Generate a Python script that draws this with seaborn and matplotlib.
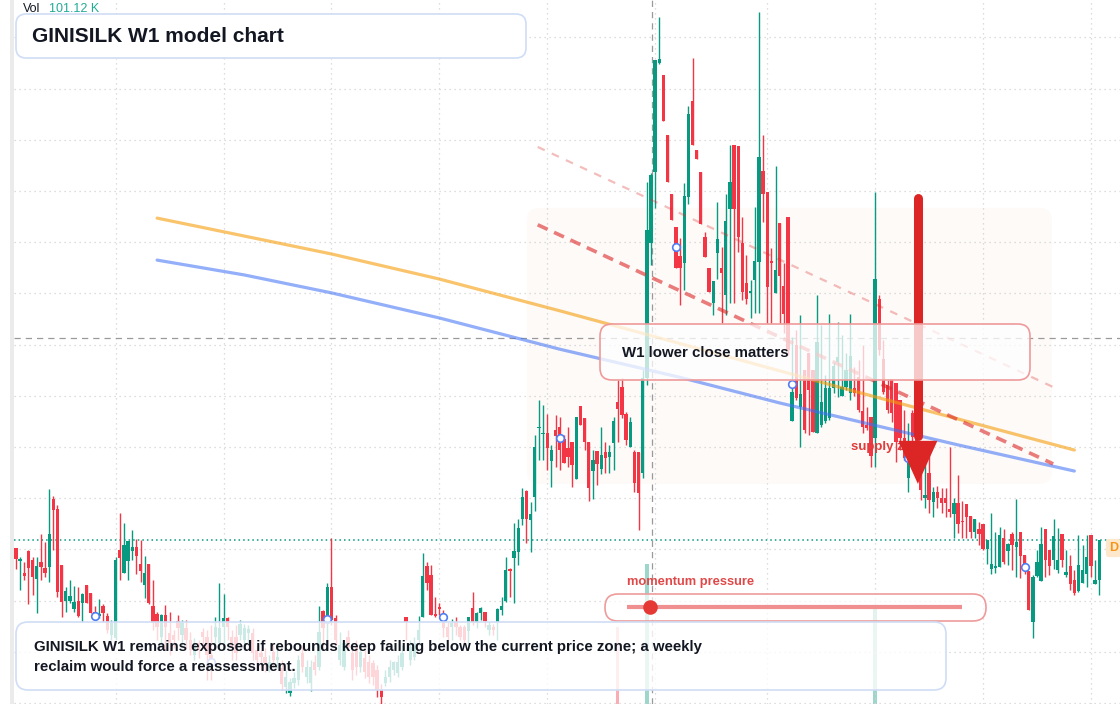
import numpy as np
import pandas as pd
import seaborn as sns
import matplotlib.pyplot as plt
from matplotlib.patches import FancyBboxPatch, Rectangle

# weekly candles (price units), oldest first
opens = [
    90.3, 87.7, 85.4, 89.7, 87.9, 84.2, 87.5, 86.4, 86.6, 99.8,
    97.9, 86.9, 79.9, 79.9, 78.4, 79.9, 79.5, 83.0, 81.5, 77.8,
    77.0, 78.9, 77.0, 73.3, 72.7, 89.9, 85.4, 87.7, 89.7, 90.5,
    87.1, 83.0, 87.1, 78.9, 77.4, 72.9, 77.2, 73.7, 73.3, 76.0,
    73.3, 74.6, 72.3, 69.4, 71.7, 73.9, 72.9, 69.4, 72.9, 71.7,
    74.8, 76.6, 72.9, 72.9, 73.3, 72.3, 73.7, 73.7, 70.3, 69.8,
    69.0, 67.0, 70.0, 68.4, 66.8, 63.1, 61.9, 63.9, 64.5, 69.8,
    65.1, 63.9, 68.0, 67.0, 78.0, 76.6, 82.7, 76.6, 68.4, 67.0,
    72.9, 69.8, 70.9, 67.0, 68.8, 68.0, 67.8, 66.4, 62.5, 63.9,
    65.1, 66.4, 65.8, 67.0, 76.8, 68.4, 69.0, 72.3, 76.8, 86.8,
    85.0, 77.4, 78.7, 76.2, 74.8, 74.8, 75.8, 74.8, 74.8, 74.1,
    78.5, 75.8, 77.6, 77.8, 74.3, 74.8, 75.8, 78.2, 79.9, 86.2,
    88.3, 89.5, 95.9, 101.4, 95.7, 100.2, 113.7, 112.5, 112.7, 107.3,
    113.3, 113.9, 111.6, 109.8, 111.0, 103.7, 118.0, 115.7, 111.0, 105.3,
    109.2, 105.7, 109.0, 108.0, 110.8, 118.8, 121.7, 116.4, 110.0, 109.0,
    109.0, 104.9, 123.5, 149.8, 163.7, 185.0, 182.6, 170.9, 159.4, 153.0,
    147.3, 145.9, 158.8, 177.6, 168.0, 163.7, 151.0, 145.0, 138.1, 147.9,
    145.0, 139.7, 156.5, 169.0, 168.8, 149.8, 142.0, 140.1, 142.6, 146.1,
    163.9, 159.8, 146.3, 140.1, 153.8, 141.4, 154.9, 115.1, 129.9, 117.8,
    125.0, 128.4, 125.0, 112.7, 114.3, 115.1, 115.7, 121.5, 126.6, 120.0,
    121.7, 120.5, 121.5, 123.7, 117.0, 114.3, 115.9, 111.8, 138.9, 127.2,
    122.1, 123.3, 122.5, 119.2, 111.8, 103.9, 116.6, 112.0, 106.5, 100.0,
    104.9, 99.3, 101.2, 100.0, 100.0, 97.9, 96.9, 99.1, 95.5, 98.9,
    96.5, 93.4, 94.0, 95.0, 90.1, 86.2, 86.4, 86.6, 92.2, 89.7,
    93.0, 90.5, 93.4, 88.9, 85.8, 75.8, 84.8, 83.8, 94.0, 89.9,
    87.9, 86.0, 93.0, 85.0, 86.8, 84.0, 81.9, 83.4, 85.2, 92.8,
    83.2, 84.0,
]
highs = [
    90.3, 88.5, 87.5, 89.9, 88.5, 88.5, 93.0, 91.4, 101.8, 100.4,
    98.7, 86.9, 82.7, 84.0, 82.8, 82.7, 81.5, 83.0, 81.5, 78.9,
    80.3, 79.3, 77.6, 76.2, 88.5, 97.1, 95.2, 91.6, 93.8, 92.0,
    91.8, 88.7, 87.1, 84.0, 77.8, 77.4, 79.1, 77.8, 74.3, 77.2,
    76.2, 76.2, 73.9, 72.7, 72.3, 74.6, 74.3, 75.2, 76.8, 83.4,
    81.3, 76.8, 74.3, 75.2, 76.2, 75.4, 75.2, 74.6, 71.3, 70.3,
    70.7, 69.4, 71.3, 70.3, 68.4, 66.4, 64.9, 66.0, 69.4, 71.3,
    68.4, 68.4, 69.4, 78.9, 78.2, 83.4, 92.2, 77.2, 73.9, 72.3,
    74.3, 71.3, 72.3, 71.3, 70.3, 69.4, 68.4, 67.4, 63.7, 66.4,
    68.4, 68.2, 69.4, 71.3, 76.8, 72.3, 72.9, 77.0, 89.3, 87.5,
    86.9, 80.7, 79.5, 78.2, 75.8, 76.4, 76.8, 75.2, 75.2, 76.8,
    81.7, 77.8, 78.7, 77.8, 75.8, 75.4, 78.5, 80.7, 88.5, 86.4,
    95.2, 95.9, 102.0, 101.6, 99.3, 112.3, 119.2, 118.2, 116.4, 110.4,
    116.3, 115.9, 112.3, 113.9, 111.0, 115.9, 118.0, 115.7, 111.0, 109.4,
    109.2, 113.9, 111.0, 110.4, 115.9, 123.1, 123.5, 116.8, 115.9, 109.4,
    109.0, 125.0, 161.8, 163.5, 185.6, 194.0, 182.6, 170.9, 159.4, 153.0,
    150.8, 161.6, 176.6, 186.0, 168.0, 163.7, 152.0, 145.0, 142.4, 157.9,
    149.1, 159.4, 169.0, 169.0, 168.8, 154.9, 147.5, 142.6, 156.9, 195.0,
    170.9, 159.8, 148.9, 164.9, 153.8, 145.9, 154.9, 131.5, 132.9, 135.8,
    125.0, 128.4, 125.0, 139.7, 133.8, 124.1, 136.0, 126.6, 134.4, 131.9,
    128.4, 136.0, 125.6, 127.0, 129.9, 117.8, 115.9, 159.8, 139.7, 130.9,
    123.1, 123.3, 122.5, 119.2, 117.2, 114.7, 117.2, 113.3, 108.4, 107.5,
    108.8, 102.2, 102.4, 102.0, 102.0, 110.0, 100.0, 104.5, 99.5, 98.9,
    96.5, 95.9, 95.3, 95.0, 91.8, 97.1, 93.4, 94.4, 94.0, 91.2,
    93.4, 99.8, 93.4, 88.9, 85.8, 85.0, 89.9, 94.4, 94.0, 89.9,
    95.9, 94.2, 93.0, 89.9, 88.9, 86.0, 92.8, 90.9, 92.8, 92.8,
    87.9, 91.8,
]
lows = [
    86.2, 82.1, 84.0, 79.3, 81.1, 77.6, 84.0, 84.6, 83.6, 89.9,
    80.7, 76.8, 77.8, 79.5, 77.8, 76.8, 75.8, 79.5, 77.6, 76.2,
    76.6, 75.8, 73.7, 72.3, 72.3, 84.0, 85.4, 84.0, 87.9, 85.2,
    83.6, 80.5, 79.3, 74.3, 72.3, 71.3, 70.3, 69.4, 70.7, 72.3,
    71.3, 70.7, 69.4, 68.4, 68.8, 71.3, 64.5, 64.5, 70.3, 70.7,
    70.3, 72.3, 68.4, 68.4, 72.3, 70.3, 71.7, 68.4, 66.8, 66.4,
    66.0, 66.0, 67.0, 66.8, 62.5, 61.9, 61.4, 62.9, 63.5, 66.0,
    63.9, 62.3, 65.5, 66.4, 70.7, 72.3, 75.2, 71.3, 67.4, 66.4,
    70.3, 64.5, 65.5, 66.0, 64.9, 63.9, 63.5, 61.2, 58.5, 63.3,
    64.1, 65.5, 65.1, 66.4, 72.3, 67.4, 68.4, 71.3, 76.8, 82.1,
    77.2, 76.8, 77.2, 72.9, 72.3, 72.3, 73.3, 72.3, 71.3, 71.7,
    75.2, 74.6, 76.2, 74.8, 73.3, 73.3, 72.3, 77.2, 79.7, 80.7,
    79.5, 86.9, 94.8, 91.2, 89.5, 97.5, 107.5, 107.5, 105.5, 102.2,
    106.1, 105.5, 106.9, 106.1, 102.2, 103.7, 114.3, 109.4, 99.5, 99.8,
    102.6, 104.7, 104.9, 104.9, 105.5, 111.0, 115.7, 110.4, 110.0, 101.2,
    93.8, 103.9, 122.1, 145.5, 156.7, 184.8, 173.7, 161.8, 154.3, 145.0,
    137.7, 140.7, 157.5, 169.0, 166.3, 153.6, 147.1, 140.3, 135.8, 142.8,
    134.2, 135.8, 138.1, 138.1, 148.1, 138.7, 137.9, 135.2, 136.2, 136.2,
    153.9, 134.2, 134.2, 140.1, 134.2, 132.3, 128.0, 115.1, 119.2, 110.0,
    112.7, 112.3, 112.9, 112.7, 113.9, 114.7, 115.3, 120.5, 119.8, 120.0,
    121.1, 119.2, 120.0, 116.8, 112.7, 113.3, 106.1, 106.1, 128.0, 120.4,
    116.6, 114.9, 107.1, 109.4, 107.5, 101.2, 110.4, 105.5, 99.6, 98.1,
    97.1, 96.3, 98.1, 97.1, 96.3, 96.3, 92.2, 93.2, 92.2, 92.2,
    92.2, 92.2, 90.9, 89.9, 87.1, 85.2, 85.4, 86.6, 87.1, 86.9,
    86.0, 84.6, 84.4, 85.2, 78.2, 72.7, 84.6, 83.8, 84.6, 85.0,
    86.2, 85.4, 86.6, 84.6, 82.1, 81.1, 81.7, 83.4, 82.7, 84.6,
    83.2, 81.1,
]
closes = [
    88.1, 88.1, 84.8, 86.4, 84.6, 86.8, 86.6, 85.4, 93.0, 97.7,
    81.7, 79.7, 81.9, 80.9, 79.7, 77.0, 81.3, 79.5, 77.6, 77.2,
    77.4, 77.6, 74.3, 75.6, 87.9, 88.3, 90.9, 91.6, 90.5, 88.7,
    85.8, 85.4, 79.5, 75.6, 74.8, 77.2, 74.8, 71.7, 72.3, 74.6,
    75.6, 72.3, 70.3, 71.7, 70.3, 72.9, 69.4, 67.4, 74.8, 74.6,
    76.6, 74.8, 70.9, 69.8, 75.4, 74.6, 74.4, 69.8, 68.4, 69.0,
    67.8, 68.0, 68.4, 69.0, 63.7, 65.1, 64.1, 64.9, 68.4, 67.0,
    67.0, 67.0, 66.4, 73.9, 74.6, 82.7, 76.2, 72.3, 71.3, 71.7,
    70.9, 66.4, 67.0, 70.0, 66.0, 65.1, 65.1, 62.5, 61.2, 65.1,
    67.0, 68.0, 68.0, 69.8, 75.8, 70.9, 71.7, 74.3, 84.8, 83.4,
    77.2, 77.0, 78.4, 74.6, 72.9, 75.6, 74.8, 72.9, 72.3, 76.8,
    75.8, 77.6, 78.5, 76.0, 75.2, 74.3, 78.4, 78.9, 86.0, 85.8,
    89.7, 94.2, 100.2, 95.9, 96.9, 110.0, 113.9, 112.7, 109.8, 109.4,
    112.1, 109.4, 106.9, 108.0, 106.5, 115.9, 114.3, 111.0, 102.0, 107.5,
    106.7, 108.4, 107.9, 109.0, 115.1, 117.4, 116.3, 111.4, 114.9, 103.0,
    101.0, 123.5, 152.4, 163.1, 185.6, 185.8, 173.7, 161.8, 154.3, 145.0,
    145.0, 159.0, 175.0, 169.0, 166.3, 153.6, 147.1, 140.3, 142.4, 150.6,
    144.0, 154.1, 161.8, 156.5, 151.0, 140.3, 138.9, 140.5, 146.3, 166.6,
    159.4, 141.2, 145.9, 144.6, 143.4, 136.0, 128.9, 120.7, 119.6, 120.4,
    113.3, 121.1, 112.9, 130.5, 118.8, 121.5, 121.5, 125.8, 127.6, 121.7,
    125.0, 127.8, 120.5, 117.2, 113.9, 113.7, 108.2, 142.8, 128.9, 120.7,
    117.2, 116.6, 111.0, 111.8, 107.9, 106.9, 112.0, 106.5, 101.6, 100.6,
    99.6, 101.2, 100.0, 99.1, 99.1, 97.3, 99.1, 95.0, 95.3, 96.3,
    93.4, 95.9, 93.0, 90.1, 91.8, 87.1, 86.8, 92.8, 87.5, 91.0,
    90.9, 91.4, 88.7, 86.4, 78.2, 84.6, 87.5, 91.0, 87.9, 86.8,
    92.6, 87.9, 87.9, 85.6, 83.2, 81.5, 86.9, 86.0, 88.5, 86.8,
    84.0, 91.8,
]
# weekly volume, thousands of shares
volume_k = [
    62, 45, 38, 71, 55, 48, 60, 41, 185, 120, 142, 96, 52, 40, 35, 58, 44, 39, 50, 33,
    29, 36, 47, 42, 210, 118, 88, 64, 49, 53, 57, 61, 70, 66, 48, 52, 45, 58, 34, 40,
    38, 42, 51, 37, 33, 30, 62, 55, 48, 95, 80, 44, 47, 52, 36, 41, 29, 50, 43, 31,
    35, 28, 39, 27, 58, 46, 33, 30, 52, 41, 34, 38, 29, 115, 92, 160, 175, 84, 45, 39,
    36, 48, 40, 35, 42, 37, 33, 55, 61, 34, 38, 30, 32, 41, 86, 36, 33, 47, 150, 92,
    110, 48, 36, 52, 41, 33, 38, 40, 44, 51, 60, 35, 31, 39, 28, 30, 46, 42, 130, 58,
    115, 140, 180, 155, 98, 260, 190, 120, 135, 110, 125, 140, 118, 92, 105, 170, 150, 122, 190, 135,
    98, 115, 90, 84, 160, 685, 240, 210, 165, 230, 250, 280, 1000, 290, 285, 270, 240, 230, 205, 215,
    190, 220, 260, 245, 150, 195, 175, 180, 140, 165, 150, 185, 200, 210, 190, 170, 140, 120, 160, 290,
    230, 210, 150, 175, 190, 160, 220, 180, 150, 170, 160, 140, 155, 185, 130, 110, 140, 105, 120, 98,
    102, 125, 90, 110, 130, 88, 150, 780, 240, 170, 120, 115, 160, 130, 140, 150, 145, 160, 170, 120,
    130, 105, 92, 98, 95, 140, 115, 120, 90, 100, 110, 85, 92, 120, 110, 135, 90, 130, 115, 88,
    95, 140, 120, 80, 175, 190, 110, 130, 120, 95, 125, 100, 110, 78, 105, 112, 130, 96, 118, 120,
    85, 101.12,
]

# slow / fast averages (bar index, price)
ma_slow_idx = [34, 76, 102, 131, 165, 201, 255]
ma_slow = [154.7, 147.7, 142.8, 136.6, 129.1, 121.1, 109.4]
ma_fast_idx = [34, 55, 76, 102, 131, 160, 184, 227, 255]
ma_fast = [146.5, 143.6, 140.1, 135.2, 129.1, 123.6, 118.6, 110.4, 105.3]

# descending channel drawn from the spike
chan_idx = [125.7, 249.9]
chan_lower = [153.4, 106.7]
chan_upper = [168.6, 121.7]

# supply zone box and arrow
zone_idx = [123.1, 249.6]
zone_price = [102.8, 156.7]
arrow_idx = 217.3
arrow_price = [158.7, 111.2, 102.8]

# pivot markers
mark_idx = [19, 47, 75, 103, 131, 159, 187, 215, 243]
mark_price = [77.0, 68.0, 76.4, 76.8, 111.8, 149.1, 122.3, 107.9, 86.6]

grid_idx = [24, 50, 76, 102, 128, 154, 181, 207, 233, 259]
grid_price = list(range(60, 200, 10))
cross_idx, cross_price = 153.3, 131.3
momentum_level = 0.07

df = pd.DataFrame({"open": opens, "high": highs, "low": lows, "close": closes, "vol": volume_k})
df["idx"] = np.arange(len(df))
up = df["close"] >= df["open"]
teal, red = "#089981", "#f23645"
colors = np.where(up, teal, red)

sns.set_theme(style="white")
plt.rcParams["font.family"] = ["Liberation Sans", "DejaVu Sans"]

fig = plt.figure(figsize=(11.2, 7.04), dpi=100)
fig.patch.set_facecolor("white")
left = 13.5 / 1120
ax = fig.add_axes([left, 0, 1 - left, 1])
ax.set_xlim(-0.6, 266.0)
ax.set_ylim(59.8, 197.3)

# volume sits behind the price pane, only the tall weeks reach into view
vax = ax.twinx()
vax.set_ylim(300, 3820)
vax.bar(df["idx"], df["vol"], width=0.8, color=colors, alpha=0.4, linewidth=0)
vax.set_zorder(ax.get_zorder() - 1)
ax.patch.set_visible(False)
vax.axis("off")

ax.set_xticks(grid_idx)
ax.set_yticks(grid_price)
ax.grid(True, color="#d2d2d2", linestyle=(0, (1, 3)), linewidth=0.9)
ax.set_axisbelow(True)
ax.tick_params(length=0, labelbottom=False, labelleft=False)
for s in ax.spines.values():
    s.set_visible(False)

# zone
zone = FancyBboxPatch((zone_idx[0], zone_price[0]), zone_idx[1] - zone_idx[0], zone_price[1] - zone_price[0],
                      boxstyle="round,pad=0,rounding_size=3", mutation_aspect=0.8,
                      facecolor="#f3dcc8", edgecolor="none", alpha=0.12, zorder=0.5)
ax.add_patch(zone)

# crosshair and last price
ax.axvline(cross_idx, color="#9a9a9a", lw=0.9, ls=(0, (5, 4)), zorder=1)
ax.axhline(cross_price, color="#9a9a9a", lw=0.9, ls=(0, (5, 4)), zorder=1)
ax.axhline(df["close"].iloc[-1], color=teal, lw=1.1, ls=(0, (1, 2)), zorder=1)

# candles
body_lo = np.minimum(df["open"], df["close"])
body_h = np.maximum((df["close"] - df["open"]).abs(), 0.25)
ax.vlines(df["idx"], np.minimum(df["low"], body_lo), np.maximum(df["high"], body_lo + body_h),
          colors=colors, lw=1.0, zorder=2)
ax.bar(df["idx"], body_h, bottom=body_lo, width=0.8, color=colors, linewidth=0, zorder=2.1)

# averages
sns.lineplot(x=ma_slow_idx, y=ma_slow, ax=ax, color="#f59e0b", alpha=0.6, lw=2.3, zorder=3)
sns.lineplot(x=ma_fast_idx, y=ma_fast, ax=ax, color="#3b6ef5", alpha=0.55, lw=2.3, zorder=3)

# channel
ax.plot(chan_idx, chan_upper, color="#dc2626", alpha=0.3, lw=1.6, dashes=(3.5, 3.5), zorder=3)
ax.plot(chan_idx, chan_lower, color="#dc2626", alpha=0.6, lw=2.6, dashes=(3.0, 2.0), zorder=3)

ax.scatter(mark_idx, mark_price, s=30, facecolor="white", edgecolor="#4f7df3", linewidth=1.2, zorder=4)

ax.text(201.2, 110.0, "supply zone", color="#e23b3b", fontsize=9.5, fontweight="bold",
        va="center", ha="left", zorder=5)

# arrow
ax.plot([arrow_idx, arrow_idx], [arrow_price[0], arrow_price[1] + 1], color="#dc2626", lw=6.5,
        solid_capstyle="round", zorder=6)
ax.fill([arrow_idx - 4.7, arrow_idx + 4.7, arrow_idx], [arrow_price[1], arrow_price[1], arrow_price[2]],
        color="#dc2626", linewidth=0, zorder=6)

# overlay for the panels (pixel layout)
ov = fig.add_axes([0, 0, 1, 1])
ov.set_xlim(0, 1120)
ov.set_ylim(704, 0)
ov.axis("off")
ov.patch.set_alpha(0)

ov.add_patch(Rectangle((10, 0), 3.5, 704, color="#ebebeb", lw=0))

ov.text(23, 9, "Vol", fontsize=9, color="#131722", va="center")
ov.text(49, 9, f"{volume_k[-1]:.2f} K", fontsize=9, color="#22ab94", va="center")

ov.add_patch(FancyBboxPatch((16, 14), 510, 44, boxstyle="round,pad=0,rounding_size=10",
                            facecolor="white", edgecolor="#cfddf6", lw=1.2))
ov.text(32, 36, "GINISILK W1 model chart", fontsize=15, fontweight="bold", color="#131722", va="center")

ov.add_patch(FancyBboxPatch((600, 324), 430, 56, boxstyle="round,pad=0,rounding_size=12",
                            facecolor=(1, 1, 1, 0.75), edgecolor="#ef9a9a", lw=1.2))
ov.text(622, 353, "W1 lower close matters", fontsize=10.8, fontweight="bold", color="#131722", va="center")

ov.text(627, 582, "momentum pressure", fontsize=9.3, fontweight="bold", color="#e04848", va="center")
ov.add_patch(FancyBboxPatch((605, 594), 381, 27, boxstyle="round,pad=0,rounding_size=13",
                            facecolor=(1, 1, 1, 0.7), edgecolor="#ee9b9b", lw=1.2))
ov.plot([627, 962], [607, 607], color="#ef8f8f", lw=3, solid_capstyle="butt")
ov.scatter([627 + momentum_level * (962 - 627)], [607], s=110, color="#e53935", linewidth=0, zorder=5)

ov.add_patch(FancyBboxPatch((16, 622), 930, 68, boxstyle="round,pad=0,rounding_size=12",
                            facecolor=(1, 1, 1, 0.8), edgecolor="#cfddf6", lw=1.2))
ov.text(34, 647, "GINISILK W1 remains exposed if rebounds keep failing below the current price zone; a weekly",
        fontsize=10.85, fontweight="bold", color="#131722", va="center")
ov.text(34, 667, "reclaim would force a reassessment.", fontsize=10.85, fontweight="bold",
        color="#131722", va="center")

ov.text(1109, 548, "D", fontsize=9, fontweight="bold", color="#f7931a", va="center",
        bbox=dict(boxstyle="round,pad=0.25", facecolor="#fde8cc", edgecolor="none"))

plt.savefig("out.png", dpi=100)
plt.close()
